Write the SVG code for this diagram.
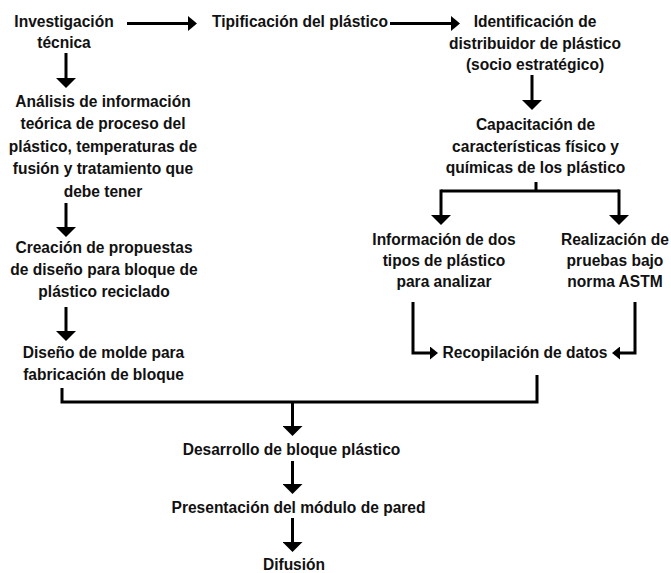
<svg xmlns="http://www.w3.org/2000/svg" width="671" height="573" viewBox="0 0 671 573">
<style>
text{font-family:"Liberation Sans",Arial,sans-serif;font-weight:bold;font-size:17px;fill:#111;text-anchor:middle}
.c{fill:none;stroke:#000;stroke-width:3}
</style>
<defs>
<marker id="ad" viewBox="0 0 10 20" refX="0" refY="10" markerWidth="10" markerHeight="20" markerUnits="userSpaceOnUse" orient="auto"><path d="M0,0L10,10L0,20Z" fill="#000"/></marker>
<marker id="ar" viewBox="0 0 9 15" refX="0" refY="7.5" markerWidth="9" markerHeight="15" markerUnits="userSpaceOnUse" orient="auto"><path d="M0,0L9,7.5L0,15Z" fill="#000"/></marker>
<marker id="as" viewBox="0 0 8 13" refX="0" refY="6.5" markerWidth="8" markerHeight="13" markerUnits="userSpaceOnUse" orient="auto"><path d="M0,0L8,6.5L0,13Z" fill="#000"/></marker>
</defs>
<g id="connectors">
<path class="c" d="M127,23.5H188" marker-end="url(#ar)"/>
<path class="c" d="M390,23.5H451" marker-end="url(#ar)"/>
<path class="c" d="M66,53V78" marker-end="url(#ad)"/>
<path class="c" d="M66,203V227" marker-end="url(#ad)"/>
<path class="c" d="M66,307V331" marker-end="url(#ad)"/>
<path class="c" d="M532,75V100" marker-end="url(#ad)"/>
<path class="c" d="M536,182V191"/>
<path class="c" d="M441,191H619"/>
<path class="c" d="M441,189.5V215" marker-end="url(#ad)"/>
<path class="c" d="M619,189.5V215" marker-end="url(#ad)"/>
<path class="c" d="M413,302V353H430" marker-end="url(#as)"/>
<path class="c" d="M635,302V353H620" marker-end="url(#as)"/>
<path class="c" d="M62,388V402H537V375"/>
<path class="c" d="M292.5,402V426" marker-end="url(#ad)"/>
<path class="c" d="M292.5,461V484" marker-end="url(#ad)"/>
<path class="c" d="M292.5,518V542" marker-end="url(#ad)"/>
</g>
<g id="nodes" transform="scale(0.915 1)">
<g id="n1"><text x="69.95" y="27">Investigación</text><text x="69.95" y="48">técnica</text></g>
<g id="n2"><text x="327.87" y="27">Tipificación del plástico</text></g>
<g id="n3"><text x="584.7" y="27">Identificación de</text><text x="584.7" y="49">distribuidor de plástico</text><text x="584.7" y="70">(socio estratégico)</text></g>
<g id="n4"><text x="112.57" y="107">Análisis de información</text><text x="112.57" y="129.5">teórica de proceso del</text><text x="112.57" y="152">plástico, temperaturas de</text><text x="112.57" y="174.5">fusión y tratamiento que</text><text x="112.57" y="197">debe tener</text></g>
<g id="n5"><text x="585.25" y="130">Capacitación de</text><text x="585.25" y="152">características físico y</text><text x="585.25" y="173.5">químicas de los plástico</text></g>
<g id="n6"><text x="113.66" y="253">Creación de propuestas</text><text x="113.66" y="275">de diseño para bloque de</text><text x="113.66" y="297">plástico reciclado</text></g>
<g id="n7"><text x="485.25" y="245">Información de dos</text><text x="485.25" y="266">tipos de plástico</text><text x="485.25" y="287">para analizar</text></g>
<g id="n8"><text x="672.13" y="245">Realización de</text><text x="672.13" y="266">pruebas bajo</text><text x="672.13" y="287">norma ASTM</text></g>
<g id="n9"><text x="113.11" y="358">Diseño de molde para</text><text x="113.11" y="380">fabricación de bloque</text></g>
<g id="n10"><text x="573.77" y="358">Recopilación de datos</text></g>
<g id="n11"><text x="318.58" y="455">Desarrollo de bloque plástico</text></g>
<g id="n12"><text x="326.23" y="513">Presentación del módulo de pared</text></g>
<g id="n13"><text x="321.31" y="570">Difusión</text></g>
</g>
</svg>
